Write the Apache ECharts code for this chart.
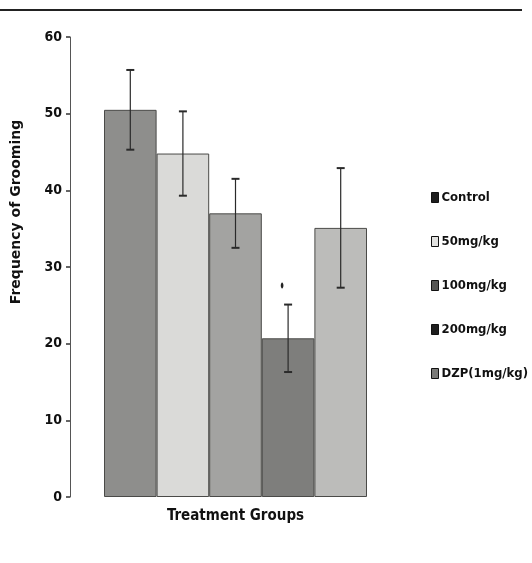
<!DOCTYPE html>
<html>
<head>
<meta charset="utf-8">
<script src="https://cdn.jsdelivr.net/npm/echarts@6/dist/echarts.min.js"></script>
<style>
html,body{margin:0;padding:0;background:#fff;}
#c{width:532px;height:563px;}
</style>
</head>
<body>
<div id="c"></div>
<script>
const groups = ['Control', '50mg/kg', '100mg/kg', '200mg/kg', 'DZP(1mg/kg)'];
const means = [50.5, 44.8, 37.0, 20.7, 35.1];
const errors = [5.2, 5.5, 4.5, 4.4, 7.8];
const significant = [false, false, false, true, false];
const yTicks = [0, 10, 20, 30, 40, 50, 60];

const barColors = ['#8e8e8c', '#dadad8', '#a3a3a1', '#7e7e7c', '#bcbcba'];
const legendColors = ['#1e1e1e', '#e2e2e0', '#555553', '#1e1e1e', '#7a7a78'];
const narrow = '"DejaVu Sans Condensed", "Liberation Sans Narrow", "Liberation Sans", sans-serif';

const chart = echarts.init(document.getElementById('c'));

const barSeries = groups.map((g, i) => ({
  name: g,
  type: 'bar',
  stack: 'all',
  barWidth: '100%',
  data: groups.map((_, j) => (j === i ? means[i] : '-')),
  itemStyle: { color: barColors[i], borderColor: '#4a4a48', borderWidth: 1 }
}));

const errData = groups.map((g, i) => [i, means[i] - errors[i], means[i] + errors[i], significant[i] ? 1 : 0]);

const errSeries = {
  type: 'custom',
  name: 'err',
  z: 10,
  data: errData,
  renderItem: function (params, api) {
    const x = api.value(0);
    const lo = api.coord([x, api.value(1)]);
    const hi = api.coord([x, api.value(2)]);
    const cap = 4;
    const style = { stroke: '#2a2a2a', lineWidth: 1.2 };
    const children = [
      { type: 'line', shape: { x1: hi[0], y1: hi[1], x2: lo[0], y2: lo[1] }, style: style },
      { type: 'line', shape: { x1: hi[0] - cap, y1: hi[1], x2: hi[0] + cap, y2: hi[1] }, style: { stroke: '#2a2a2a', lineWidth: 2 } },
      { type: 'line', shape: { x1: lo[0] - cap, y1: lo[1], x2: lo[0] + cap, y2: lo[1] }, style: { stroke: '#2a2a2a', lineWidth: 2 } }
    ];
    if (api.value(3) === 1) {
      children.push({ type: 'ellipse', shape: { cx: hi[0] - 6, cy: hi[1] - 19, rx: 1.3, ry: 3 }, style: { fill: '#222' } });
    }
    return { type: 'group', children: children };
  }
};

chart.setOption({
  animation: false,
  backgroundColor: '#fff',
  grid: { left: 104, right: 165, top: 37, bottom: 66 },
  legend: {
    orient: 'vertical',
    left: 426,
    top: 186,
    itemWidth: 7,
    itemHeight: 10,
    itemGap: 31,
    icon: 'rect',
    textStyle: { fontFamily: narrow, fontWeight: 'bold', fontSize: 13, color: '#111', padding: [0, 0, 0, -2] },
    data: groups.map((g, i) => ({ name: g, itemStyle: { color: legendColors[i], borderColor: '#111', borderWidth: 1 } }))
  },
  xAxis: {
    type: 'category',
    data: groups,
    axisLine: { show: false },
    axisTick: { show: false },
    axisLabel: { show: false },
    name: 'Treatment Groups',
    nameLocation: 'middle',
    nameGap: 12,
    nameTextStyle: { fontFamily: narrow, fontWeight: 'bold', fontSize: 15, color: '#111', verticalAlign: 'top' }
  },
  yAxis: {
    type: 'value',
    min: yTicks[0],
    max: yTicks[yTicks.length - 1],
    interval: 10,
    offset: 34,
    splitLine: { show: false },
    axisLine: { show: true, lineStyle: { color: '#555', width: 1 } },
    axisTick: { show: true, length: 4, lineStyle: { color: '#333', width: 1.5 } },
    axisLabel: { fontFamily: narrow, fontWeight: 'bold', fontSize: 14, color: '#111', margin: 8 }
  },
  graphic: [
    { type: 'line', shape: { x1: 0, y1: 10, x2: 522, y2: 10 }, style: { stroke: '#222', lineWidth: 2 } },
    { type: 'text', x: 16, y: 212, rotation: Math.PI / 2,
      style: { text: 'Frequency of Grooming', font: 'bold 14px "DejaVu Sans"', fill: '#111', textAlign: 'center', textVerticalAlign: 'middle' } }
  ],
  series: barSeries.concat([errSeries])
});
</script>
</body>
</html>
